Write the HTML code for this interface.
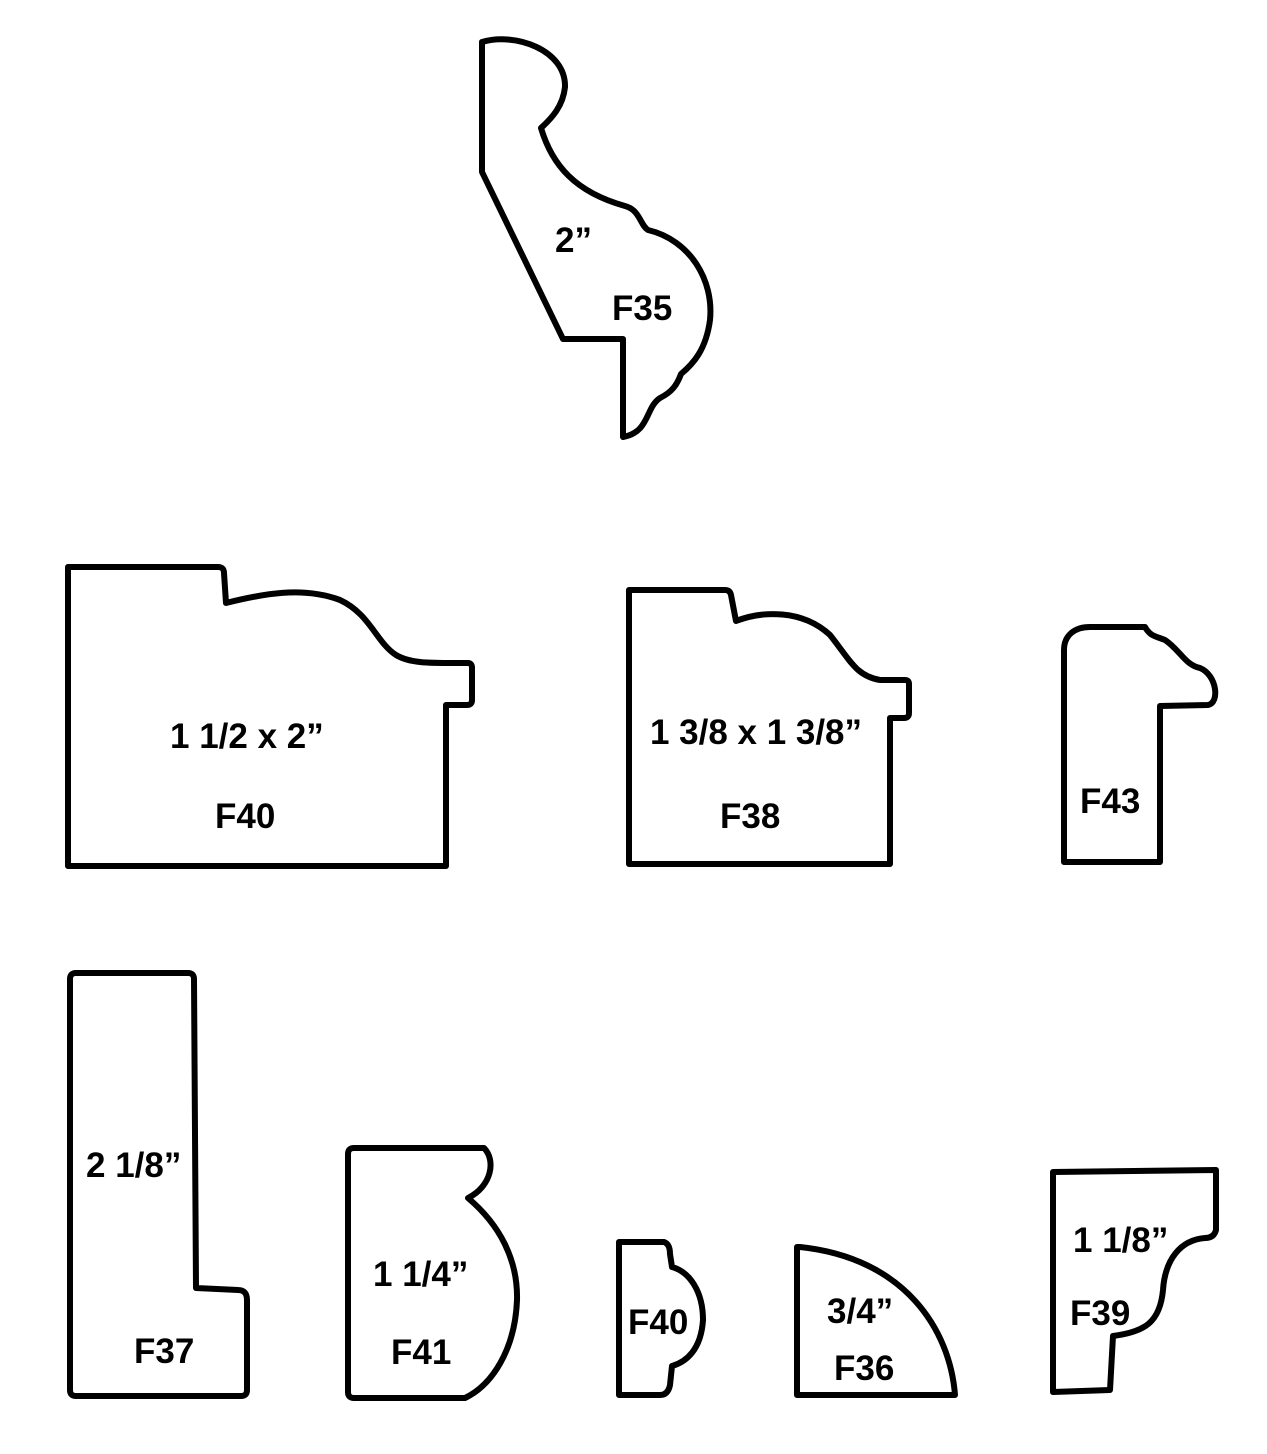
<!DOCTYPE html>
<html><head><style>body{margin:0;background:#fff}svg{display:block}text{font-family:"Liberation Sans",Arial,sans-serif;font-weight:bold;font-size:35px;fill:#000}</style></head>
<body>
<svg width="1267" height="1454" viewBox="0 0 1267 1454" xmlns="http://www.w3.org/2000/svg">
<g fill="none" stroke="#000" stroke-width="6" stroke-linejoin="round">
<path d="M482,42 C515,32 566,50 565,87 C563,106 552,118 541,128 C552,165 575,192 625,206 C640,210 640,225 648,230 C690,240 714,280 710,320 C706,350 693,364 681,374 C677,385 672,392 660,398 C645,408 650,432 623,437 L623,339 L563,339 L482,172 Z"/>
<path d="M68,567 L218,567 Q224,567 224,573 L226,603 C262,594 302,586 340,600 C370,614 376,642 396,655 C411,664 432,663 468,663 Q472,663 472,668 L472,700 Q472,705 467,705 L446,705 L446,866 L68,866 Z"/>
<path d="M629,590 L725,590 Q730,590 731,595 L736,621 C762,611 802,609 830,635 C850,660 856,676 880,680 L905,680 Q909,680 909,684 L909,713 Q909,718 904,718 L890,718 L890,864 L629,864 Z"/>
<path d="M1064,862 L1064,650 C1064,635 1075,627 1090,627 L1145,627 C1150,636 1155,636 1165,640 C1180,650 1185,665 1200,668 C1217,675 1220,703 1208,705 L1160,706 L1160,862 Z"/>
<path d="M76,973 L188,973 Q194,973 194,979 L196,1288 L238,1290 Q247,1290 247,1300 L247,1390 Q247,1396 241,1396 L76,1396 Q70,1396 70,1390 L70,979 Q70,973 76,973 Z"/>
<path d="M354,1148 L484,1148 C496,1160 492,1186 468,1198 C500,1225 518,1260 517,1300 C515,1350 492,1385 465,1398 L354,1398 Q348,1398 348,1392 L348,1154 Q348,1148 354,1148 Z"/>
<path d="M619,1242 L664,1242 Q670,1244 670,1254 L672,1267 C690,1272 703,1292 703,1320 C701,1350 686,1362 672,1366 L670,1385 Q668,1395 660,1395 L619,1395 Z"/>
<path d="M797,1247 L797,1395 L955,1395 C950,1330 905,1258 800,1247 Z"/>
<path d="M1053,1172 L1216,1170 L1216,1230 Q1214,1238 1205,1238 C1180,1240 1165,1260 1163,1290 C1160,1322 1145,1332 1113,1336 L1110,1390 L1053,1392 Z"/>
</g>
<text x="555" y="252">2”</text>
<text x="612" y="320">F35</text>
<text x="170" y="748">1 1/2 x 2”</text>
<text x="215" y="828">F40</text>
<text x="650" y="744" textLength="212" lengthAdjust="spacingAndGlyphs">1 3/8 x 1 3/8”</text>
<text x="720" y="828">F38</text>
<text x="1080" y="813">F43</text>
<text x="86" y="1177">2 1/8”</text>
<text x="134" y="1363">F37</text>
<text x="373" y="1286">1 1/4”</text>
<text x="391" y="1364">F41</text>
<text x="628" y="1334">F40</text>
<text x="827" y="1323">3/4”</text>
<text x="834" y="1380">F36</text>
<text x="1073" y="1252">1 1/8”</text>
<text x="1070" y="1325">F39</text>
</svg>
</body></html>
